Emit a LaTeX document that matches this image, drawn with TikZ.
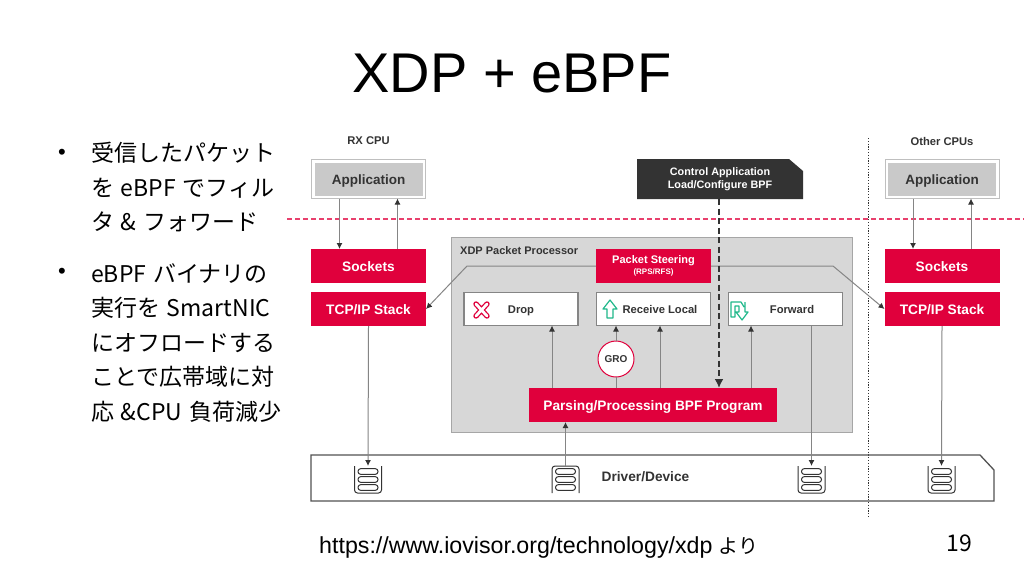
\documentclass[tikz,border=0pt]{standalone}
\usepackage{fontspec}
\setmainfont{Liberation Sans}
\newfontfamily\cjk[WordSpace=1.3]{Noto Sans CJK JP}
\usetikzlibrary{arrows.meta}
\definecolor{xdpred}{HTML}{E0003C}
\definecolor{xdpgray}{HTML}{D7D7D7}
\definecolor{xdpline}{HTML}{858585}
\definecolor{xdpdark}{HTML}{333333}
\definecolor{xdpgreen}{HTML}{1FB88A}
\tikzset{
  redbox/.style={fill=xdpred, text=white, font=\fontsize{13.7}{15}\selectfont\bfseries, text height=11.5pt, text depth=0pt, minimum width=115pt, minimum height=34pt, inner sep=0pt, outer sep=0pt},
  actionbox/.style={draw=xdpline, line width=1.4pt, fill=white, text=xdpdark, font=\fontsize{11.2}{13}\selectfont\bfseries, text height=9.5pt, text depth=0pt, minimum width=114pt, minimum height=33pt, inner sep=0pt, outer sep=0pt},
  appbox/.style={draw=black!25, line width=1pt, fill=white, minimum width=114pt, minimum height=39pt, inner sep=0pt, outer sep=0pt},
  appfill/.style={fill=black!21, text=xdpdark, font=\fontsize{13.5}{15}\selectfont\bfseries, text height=11.5pt, text depth=0pt, minimum width=108pt, minimum height=33pt, inner sep=0pt},
  cputext/.style={text=xdpdark, font=\fontsize{11.2}{13}\selectfont\bfseries},
  flow/.style={draw=xdpline, line width=1pt, -{Latex[length=6pt,width=6pt,color=xdpdark]}},
  qspot/.style={minimum width=27pt, minimum height=27pt, inner sep=0pt, outer sep=0pt},
  bodytext/.style={align=left, anchor=north west, inner sep=0pt, font=\cjk\fontsize{23}{34.4}\selectfont}
}
% three bars of a queue
\newcommand{\qbars}[2]{
  \foreach \dy in {-8,0,8}
    \draw[xdpdark, line width=1pt, rounded corners=2.8pt] (#1-10,#2+\dy-2.9) rectangle (#1+10,#2+\dy+2.9);
}
\begin{document}
\begin{tikzpicture}[x=1pt,y=-1pt]
\useasboundingbox (0,0) rectangle (1024,576);
\fill[white] (0,0) rectangle (1024,576);

% Title and text
\node[font=\fontsize{56}{60}\selectfont, anchor=base] (title) at (512,92) {XDP + eBPF};
\node[font=\fontsize{22}{24}\selectfont, inner sep=0pt] (dotA) at (62,154) {•};
\node[bodytext] (textA) at (91,142) {受信したパケット\\を eBPF でフィル\\タ \& フォワード};
\node[font=\fontsize{22}{24}\selectfont, inner sep=0pt] (dotB) at (62,273) {•};
\node[bodytext] (textB) at (91,263.5) {eBPF バイナリの\\実行を SmartNIC\\にオフロードする\\ことで広帯域に対\\応 \&CPU 負荷減少};
\node[font=\fontsize{23.2}{24}\selectfont, anchor=base west, inner sep=0pt] (source) at (319,553) {https://www.iovisor.org/technology/xdp {\cjk\fontsize{20}{24}\selectfont より}};
\node[font=\cjk\fontsize{23}{24}\selectfont, anchor=base, inner sep=0pt] (page) at (959.5,551) {19};

% Separators
\coordinate (sepL) at (287,219);
\coordinate (sepR) at (1024,219);
\coordinate (cpuT) at (868,138);
\coordinate (cpuE) at (868,518);
\draw[xdpred!75, line width=1.3pt, dash pattern=on 5pt off 3pt] (sepL) -- (sepR);
\draw[xdpdark, line width=1pt, dash pattern=on 1.2pt off 1.6pt] (cpuT) -- (cpuE);

% XDP processor
\node[draw=black!35, line width=1pt, fill=xdpgray, minimum width=401pt, minimum height=195pt, inner sep=0pt, outer sep=0pt] (xdp) at (651.5,334.5) {};
\node[text=xdpdark, font=\fontsize{11}{13}\selectfont\bfseries, anchor=base west, inner sep=0pt] (xdplabel) at (460,254) {XDP Packet Processor};

% Left CPU
\node[cputext] (cpuA) at (368.5,141) {RX CPU};
\node[appbox] (appA) at (368.5,179) {};
\node[appfill] (appAin) at (appA) {Application};
\node[redbox] (sockA) at (368.5,266) {Sockets};
\node[redbox] (tcpA) at (368.5,309) {TCP/IP Stack};

% Right CPU
\node[cputext] (cpuB) at (942,141) {Other CPUs};
\node[appbox] (appB) at (942,179) {};
\node[appfill] (appBin) at (appB) {Application};
\node[redbox] (sockB) at (942,266) {Sockets};
\node[redbox] (tcpB) at (942,309) {TCP/IP Stack};

% Packet steering, actions
\node[redbox, align=center, text height=, text depth=, font=\fontsize{11}{11.5}\selectfont\bfseries] (steer) at (653.5,266) {Packet Steering\\[-1pt]{\fontsize{8}{8.5}\selectfont (RPS/RFS)}};
\node[actionbox] (drop) at (521,309) {Drop};
\node[actionbox] (recv) at (653.5,309) {\hspace{13pt}Receive Local};
\node[actionbox] (fwd) at (785.5,309) {\hspace{13pt}Forward};
\node[redbox, minimum width=248pt] (parse) at (653,405) {Parsing/Processing BPF Program};
\node[circle, draw=xdpred, line width=1pt, fill=white, text=xdpdark, minimum size=36pt, inner sep=0pt, outer sep=0pt, font=\fontsize{10}{11}\selectfont\bfseries] (gro) at (616,359) {GRO};

% Icons
\draw[xdpred, line width=5.4pt, line cap=round] (476,304) -- (487,316) (487,304) -- (476,316);
\draw[white, line width=2.8pt, line cap=round] (476,304) -- (487,316) (487,304) -- (476,316);
\draw[xdpgreen, line width=1.2pt, line join=round] (610,300) -- (617,309) -- (613,309) -- (613,318) -- (607,318) -- (607,309) -- (603,309) -- cycle;
\draw[xdpgreen, line width=1.2pt, line join=round] (744,307) -- (741,302) -- (731,302) -- (731,317) -- (735,317) -- (735,306) -- (739,306) -- (739,312) -- (736,312) -- (742,320) -- (748,312) -- (745,312) -- (745,302);

% Control application
\node[fill=none, minimum width=166pt, minimum height=40pt, inner sep=0pt, outer sep=0pt] (ctrl) at (720,179) {};
\fill[xdpdark] (ctrl.south west) -- (ctrl.north west) -- (789,159) -- (803,171) -- (ctrl.south east) -- cycle;
\node[text=white, align=center, font=\fontsize{10.8}{13.3}\selectfont\bfseries] (ctrltext) at (720,179.5) {Control Application\\Load/Configure BPF};

% Driver
\coordinate (drvA) at (311,455);
\coordinate (drvB) at (980,455);
\coordinate (drvC) at (994,470);
\coordinate (drvD) at (994,501);
\coordinate (drvE) at (311,501);
\draw[xdpdark!85, line width=1.3pt] (drvA) -- (drvB) -- (drvC) -- (drvD) -- (drvE) -- cycle;
\node[text=xdpdark, font=\fontsize{13.7}{15}\selectfont\bfseries] (drvtext) at (645.5,477) {Driver/Device};

% Queues
\node[qspot] (qA) at (368,479.5) {};
\node[qspot] (qB) at (565.5,479.5) {};
\node[qspot] (qC) at (811.5,479.5) {};
\node[qspot] (qD) at (941.5,479.5) {};
\foreach \qn/\qx in {qA/368,qC/811.5,qD/941.5}{
  \draw[xdpdark, line width=1pt, rounded corners=3pt] (\qn.north west) -- (\qn.south west) -- (\qn.south east) -- (\qn.north east);
  \qbars{\qx}{479.5}
}
\draw[xdpdark, line width=1pt, rounded corners=3pt] (qB.south west) -- (qB.north west) -- (qB.north east) -- (qB.south east);
\qbars{565.5}{479.5}

% Connectors
\draw[flow] ([xshift=-29pt]appA.south) -- ([xshift=-29pt]sockA.north);
\draw[flow] ([xshift=29pt]sockA.north) -- ([xshift=29pt]appA.south);
\draw[flow] ([xshift=-29pt]appB.south) -- ([xshift=-29pt]sockB.north);
\draw[flow] ([xshift=29pt]sockB.north) -- ([xshift=29pt]appB.south);
\draw[flow] (tcpA.south) -- (qA.north);
\draw[flow] (tcpB.south) -- (qD.north);
\draw[flow] (fwd.south -| qC.north) -- (qC.north);
\draw[flow] (qB.north) -- (parse.south -| qB.north);
\draw[flow] (steer.west) -- (467,266) -- (tcpA.east);
\draw[flow] (steer.east) -- (833,266) -- (tcpB.west);
\draw[flow] ([xshift=31pt]parse.north -| drop) -- ([xshift=31pt]drop.south);
\draw[draw=xdpline, line width=1pt] (parse.north -| gro) -- (gro.south);
\draw[flow] (gro.north) -- (recv.south -| gro);
\draw[flow] ([xshift=6.5pt]parse.north -| recv) -- ([xshift=6.5pt]recv.south);
\draw[flow] ([xshift=-34.5pt]parse.north -| fwd) -- ([xshift=-34.5pt]fwd.south);
\draw[xdpdark, line width=1.8pt, dash pattern=on 6pt off 3.5pt, -{Latex[length=9pt,width=9pt]}] (ctrl.south -| 719,0) -- (parse.north -| 719,0);
\end{tikzpicture}
\end{document}
